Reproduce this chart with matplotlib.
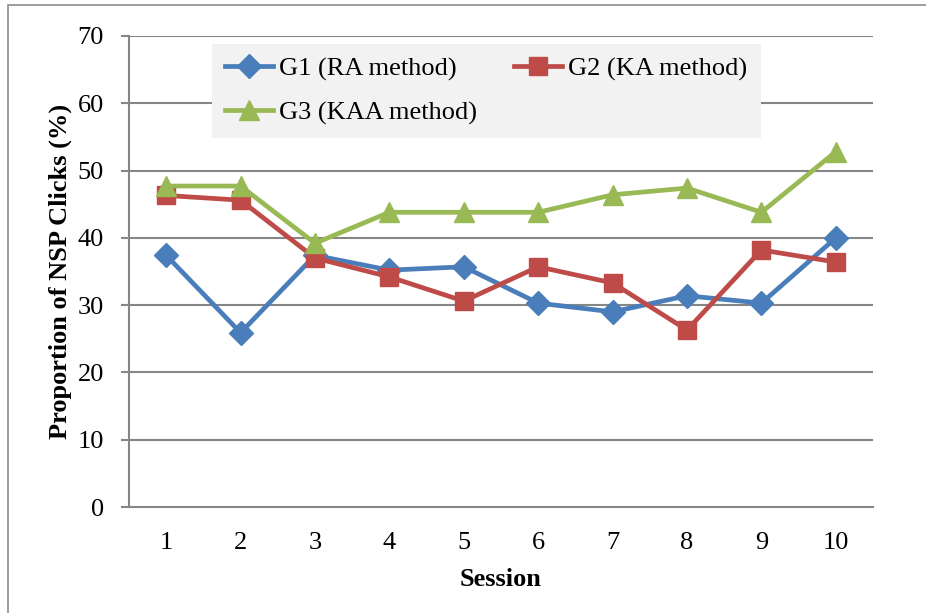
import matplotlib.pyplot as plt
from matplotlib.patches import Rectangle

sessions = [1, 2, 3, 4, 5, 6, 7, 8, 9, 10]
g1_ra = [37.4, 25.9, 37.4, 35.2, 35.7, 30.3, 29.0, 31.4, 30.3, 40.0]
g2_ka = [46.3, 45.6, 37.0, 34.2, 30.6, 35.7, 33.3, 26.3, 38.2, 36.4]
g3_kaa = [47.7, 47.7, 39.2, 43.8, 43.8, 43.8, 46.4, 47.4, 43.8, 52.8]

plt.rcParams['font.family'] = ['Liberation Serif', 'DejaVu Serif']

fig = plt.figure(figsize=(9.26, 6.13), dpi=100)
ax = fig.add_axes([0.1393, 0.1729, 0.8035, 0.7684])

# outer chart frame (only left/top visible in the reference)
fig.patches.append(Rectangle((8 / 926, -0.1), 1.2, 1 - 5 / 613 + 0.1,
                             transform=fig.transFigure, fill=False,
                             edgecolor='#8c8c8c', linewidth=1.2))

grid_c = '#868686'
for v in range(10, 80, 10):
    ax.axhline(v, color=grid_c, linewidth=1.5, zorder=1)

l1, = ax.plot(sessions, g1_ra, color='#4a7ebb', linewidth=3.4, marker='D',
              markersize=12, label='G1 (RA method)', zorder=3)
l2, = ax.plot(sessions, g2_ka, color='#be4b48', linewidth=3.4, marker='s',
              markersize=13, label='G2 (KA method)', zorder=3)
l3, = ax.plot(sessions, g3_kaa, color='#98b954', linewidth=3.4, marker='^',
              markersize=14, label='G3 (KAA method)', zorder=3)

ax.set_xlim(0.5, 10.5)
ax.set_ylim(0, 70)
ax.set_xticks(sessions)
ax.set_yticks(range(0, 80, 10))
for s in ['top', 'right']:
    ax.spines[s].set_visible(False)
ax.spines['left'].set_color(grid_c)
ax.spines['bottom'].set_color(grid_c)
ax.spines['left'].set_linewidth(1.5)
ax.spines['bottom'].set_linewidth(1.5)
ax.tick_params(axis='y', length=6, width=1.5, color=grid_c, labelsize=19, pad=12)
ax.tick_params(axis='x', length=0, labelsize=19, pad=18)

ax.set_xlabel('Session', fontsize=19, fontweight='bold', labelpad=10)
ax.set_ylabel('Proportion of NSP Clicks (%)', fontsize=19, fontweight='bold', labelpad=4)

leg = ax.legend([l1, l3, l2], ['G1 (RA method)', 'G3 (KAA method)', 'G2 (KA method)'],
                ncol=2, loc='upper left', bbox_to_anchor=(83 / 744, 463 / 471),
                borderaxespad=0, frameon=True, fancybox=False, fontsize=19,
                handlelength=1.8, handletextpad=0.25, columnspacing=1.4,
                borderpad=0.5, labelspacing=0.75)
leg.get_frame().set_facecolor('#f2f2f2')
leg.get_frame().set_edgecolor('none')
leg.get_frame().set_alpha(1)

fig.savefig('out.png', dpi=100)
